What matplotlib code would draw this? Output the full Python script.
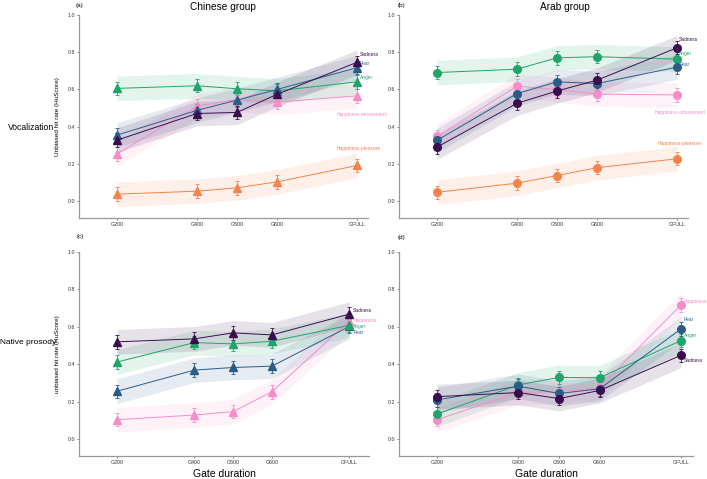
import numpy as np
import matplotlib
matplotlib.use("Agg")
import matplotlib.pyplot as plt

plt.rcParams["font.family"] = ["Liberation Sans", "DejaVu Sans"]

W, H = 707, 479

GATES = [200, 400, 500, 600, 800]
GATE_LABELS = ["G200", "G400", "G500", "G600", "GFULL"]

# (a) Chinese group, vocalization
A_SADNESS = [0.328, 0.471, 0.477, 0.574, 0.746]
A_FEAR = [0.355, 0.488, 0.543, 0.600, 0.717]
A_ANGER = [0.606, 0.620, 0.604, 0.593, 0.641]
A_HAPPY = [0.254, 0.511, 0.547, 0.532, 0.566]
A_PLEASURE = [0.038, 0.054, 0.072, 0.104, 0.192]

# (b) Arab group, vocalization
B_SADNESS = [0.291, 0.526, 0.592, 0.650, 0.824]
B_FEAR = [0.327, 0.578, 0.641, 0.632, 0.720]
B_ANGER = [0.691, 0.709, 0.770, 0.776, 0.763]
B_HAPPY = [0.348, 0.618, 0.600, 0.575, 0.571]
B_PLEASURE = [0.048, 0.097, 0.138, 0.180, 0.228]

# (c) Chinese group, native prosody
C_SADNESS = [0.520, 0.536, 0.568, 0.557, 0.668]
C_HAPPY = [0.104, 0.129, 0.147, 0.253, 0.631]
C_ANGER = [0.412, 0.516, 0.509, 0.523, 0.608]
C_FEAR = [0.256, 0.369, 0.383, 0.390, 0.602]

# (d) Arab group, native prosody
D_HAPPY = [0.104, 0.250, 0.254, 0.277, 0.717]
D_FEAR = [0.210, 0.283, 0.244, 0.269, 0.589]
D_ANGER = [0.134, 0.290, 0.330, 0.328, 0.527]
D_SADNESS = [0.227, 0.249, 0.217, 0.260, 0.448]

# half widths: shaded band and error bars
BAND_HW = 0.066
ERR_HW = 0.036

COLORS = {
    "Sadness": "#3a0d4e",
    "Fear": "#2b5c88",
    "Anger": "#1fa56a",
    "Happiness": "#f78cc8",
    "Pleasure": "#f7834b",
}


def px_axes(left, top, right, bottom):
    return [left / W, 1 - bottom / H, (right - left) / W, (bottom - top) / H]


fig = plt.figure(figsize=(W / 100, H / 100), dpi=100)

panels = [
    # rect, xlim, marker, series, labels
    (px_axes(79, 15, 368, 218), (105, 827.5), "^",
     [("Pleasure", A_PLEASURE), ("Happiness", A_HAPPY), ("Anger", A_ANGER),
      ("Fear", A_FEAR), ("Sadness", A_SADNESS)],
     [("Sadness", "Sadness", 807, 0.790), ("Fear", "Fear", 807, 0.737),
      ("Anger", "Anger", 807, 0.667),
      ("Happiness", "Happiness-amusement", 748, 0.468),
      ("Pleasure", "Happiness-pleasure", 748, 0.285)]),
    (px_axes(399, 15, 688, 218), (105, 827.5), "o",
     [("Pleasure", B_PLEASURE), ("Happiness", B_HAPPY), ("Anger", B_ANGER),
      ("Fear", B_FEAR), ("Sadness", B_SADNESS)],
     [("Sadness", "Sadness", 804, 0.871), ("Anger", "Anger", 804, 0.795),
      ("Fear", "Fear", 806, 0.736),
      ("Happiness", "Happiness-amusement", 744, 0.478),
      ("Pleasure", "Happiness-pleasure", 752, 0.311)]),
    (px_axes(79, 252, 369, 456), (101.9, 850.9), "^",
     [("Happiness", C_HAPPY), ("Fear", C_FEAR), ("Anger", C_ANGER),
      ("Sadness", C_SADNESS)],
     [("Sadness", "Sadness", 810, 0.688), ("Happiness", "Happiness", 810, 0.634),
      ("Anger", "Anger", 810, 0.602), ("Fear", "Fear", 810, 0.570)]),
    (px_axes(399, 252, 693, 456), (106.6, 829.5), "o",
     [("Happiness", D_HAPPY), ("Anger", D_ANGER), ("Fear", D_FEAR),
      ("Sadness", D_SADNESS)],
     [("Happiness", "Happiness", 807, 0.733), ("Fear", "Fear", 807, 0.641),
      ("Anger", "Anger", 807, 0.556), ("Sadness", "Sadness", 807, 0.421)]),
]

axes = []
for rect, xlim, marker, series, labels in panels:
    ax = fig.add_axes(rect)
    axes.append(ax)
    x = np.array(GATES)
    for name, vals in series:
        y = np.array(vals)
        col = COLORS[name]
        ax.fill_between(x, y - BAND_HW, y + BAND_HW, color=col, alpha=0.12,
                        linewidth=0, zorder=1)
        ax.errorbar(x, y, yerr=ERR_HW, color=col, marker=marker, markersize=5.5,
                    linewidth=0.7, elinewidth=0.6, capsize=1.2, capthick=0.6,
                    zorder=3)
    for name, text, lx, ly in labels:
        ax.text(lx, ly, text, color=COLORS[name], fontsize=3.5, ha="left",
                va="center", clip_on=False)
    ax.set_xlim(*xlim)
    ax.set_ylim(-0.09, 1.0)
    ax.set_xticks(GATES)
    ax.set_xticklabels(GATE_LABELS)
    ax.set_yticks([0.0, 0.2, 0.4, 0.6, 0.8, 1.0])
    ax.set_yticklabels(["0.0", "0.2", "0.4", "0.6", "0.8", "1.0"])
    ax.tick_params(labelsize=3.8, length=1.5, width=0.5, colors="#555555",
                   labelcolor="#333333", pad=1.5)
    for s in ["top", "right"]:
        ax.spines[s].set_visible(False)
    for s in ["left", "bottom"]:
        ax.spines[s].set_color("#999999")
        ax.spines[s].set_linewidth(0.9)

axes[0].set_ylabel("Unbiased hit rate (HuScore)", fontsize=4.6, labelpad=5)
axes[2].set_ylabel("unbiased hit rate (HuScore)", fontsize=4.6, labelpad=5)
axes[2].set_xlabel("Gate duration", fontsize=7.5, labelpad=3)
axes[3].set_xlabel("Gate duration", fontsize=7.5, labelpad=3)

fig.text(223 / W, 1 - 7 / H, "Chinese group", fontsize=7.3, ha="center", va="center")
fig.text(565 / W, 1 - 7 / H, "Arab group", fontsize=7.3, ha="center", va="center")
fig.text(31 / W, 1 - 127 / H, "Vocalization", fontsize=6.2, ha="center", va="center")
fig.text(28 / W, 1 - 343 / H, "Native prosody", fontsize=6.0, ha="center", va="center")

for lbl, px, py in [("(a)", 80, 5), ("(b)", 402, 5), ("(c)", 80, 236), ("(d)", 401, 238)]:
    fig.text(px / W, 1 - py / H, lbl, fontsize=4.5, ha="center", va="center")

fig.savefig("out.png", dpi=100)
